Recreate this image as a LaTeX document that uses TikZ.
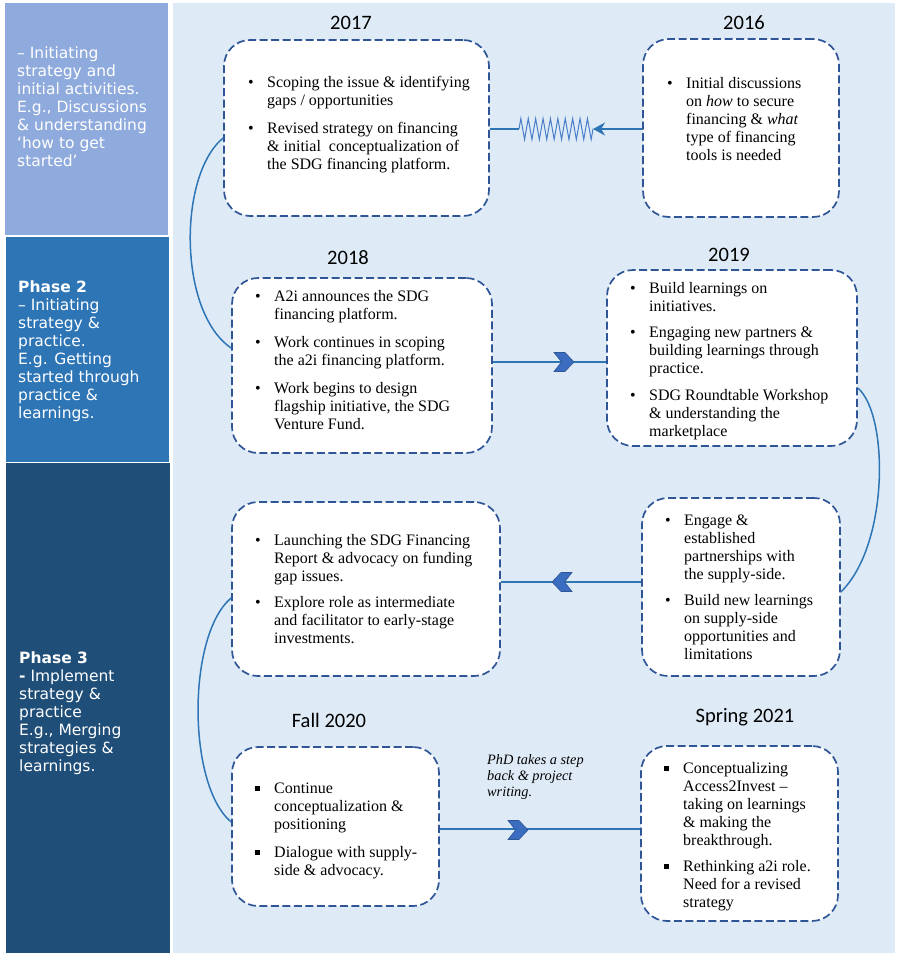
\documentclass[tikz,border=0pt]{standalone}
\usepackage{fontspec}
\setmainfont{Liberation Serif}
\newfontfamily\headfont{Carlito}
\newfontfamily\sidefont{DejaVu Sans}
\usetikzlibrary{arrows.meta,decorations.pathmorphing}

\definecolor{phaseA}{HTML}{8FAADC}
\definecolor{phaseB}{HTML}{2E75B6}
\definecolor{phaseC}{HTML}{1F4E79}
\definecolor{canvasbg}{HTML}{DEEBF7}
\definecolor{dashcol}{HTML}{2F5597}
\definecolor{linkcol}{HTML}{2E75B6}
\definecolor{chevcol}{HTML}{3A6CC0}
\definecolor{springcol}{HTML}{4A7EC8}

\newcommand{\bodysize}{\fontsize{16}{18}\selectfont}
\newcommand{\sidesize}{\sidefont\fontsize{15.5}{18}\selectfont}
\newcommand{\dotb}{\textbullet}
\newcommand{\sqb}{\rule[3pt]{4.6pt}{4.6pt}}
\newenvironment{blist}{\bodysize\renewcommand\arraystretch{1}\begin{tabular}{@{}p{19pt}@{}l@{}}}{\end{tabular}}
\newenvironment{slist}{\sidesize\renewcommand\arraystretch{1}\begin{tabular}{@{}l@{}}}{\end{tabular}}

\tikzset{
  chevR/.pic={\fill[chevcol, draw=dashcol, line width=0.6pt] (-10,-9.5) -- (1,-9.5) -- (10,0) -- (1,9.5) -- (-10,9.5) -- (-2.5,0) -- cycle;}
}

\begin{document}
\begin{tikzpicture}[x=1pt,y=-1pt,
  box/.style={draw=dashcol, line width=1.7pt, dash pattern=on 8pt off 3.5pt,
              fill=white, rounded corners=26pt, inner sep=0pt},
  txt/.style={anchor=north west, inner sep=0pt},
  yearlbl/.style={font=\headfont\fontsize{20.5}{22}\selectfont, inner sep=0pt},
  sidelbl/.style={anchor=north west, inner sep=0pt, text=white},
  link/.style={draw=linkcol, line width=2.8pt},
  curve/.style={draw=linkcol, line width=1.5pt},
  spring/.style={draw=springcol, line width=1pt, decorate,
                 decoration={zigzag, segment length=7.4pt, amplitude=10.5pt}},
  note/.style={anchor=north west, inner sep=0pt,
               font=\itshape\fontsize{14.3}{16}\selectfont}]
\useasboundingbox (0,0) rectangle (898,953);
\fill[white] (0,0) rectangle (898,953);

% phase column and timeline canvas
\fill[phaseA] (5,3) rectangle (168,235);
\fill[phaseB] (6,237) rectangle (169,462);
\fill[phaseC] (6,463) rectangle (170,953);
\fill[canvasbg] (173,3) rectangle (895,953);

\node[sidelbl] (side1) at (17,46) {\begin{slist}
– Initiating\\ strategy and\\ initial activities.\\ E.g., Discussions\\ \& understanding\\ ‘how to get\\ started’
\end{slist}};
\node[sidelbl] (side2) at (18,280) {\begin{slist}
\textbf{Phase 2}\\ – Initiating\\ strategy \&\\ practice.\\ E.g. Getting\\ started through\\ practice \&\\ learnings.
\end{slist}};
\node[sidelbl] (side3) at (19,651) {\begin{slist}
\textbf{Phase 3}\\ \textbf{-} Implement\\ strategy \&\\ practice\\ E.g., Merging\\ strategies \&\\ learnings.
\end{slist}};

% yearly boxes
\node[box, minimum width=265pt, minimum height=176pt] (b2017) at (356.5,128) {};
\node[box, minimum width=196pt, minimum height=178pt] (b2016) at (741,128) {};
\node[box, minimum width=260pt, minimum height=175pt] (b2018) at (362,365.5) {};
\node[box, minimum width=250pt, minimum height=176pt] (b2019) at (732,358) {};
\node[box, minimum width=268pt, minimum height=174pt] (bLaunch) at (366,589) {};
\node[box, minimum width=198pt, minimum height=178pt] (bEngage) at (741,587) {};
\node[box, minimum width=207pt, minimum height=159pt] (bFall) at (335.5,826.5) {};
\node[box, minimum width=197pt, minimum height=175pt] (bSpring) at (739.5,833.5) {};

% headings
\node[yearlbl] (y2017) at (351,23) {2017};
\node[yearlbl] (y2016) at (744,23) {2016};
\node[yearlbl] (y2018) at (348,258) {2018};
\node[yearlbl] (y2019) at (729,255) {2019};
\node[yearlbl] (yFall) at (329,720) {Fall 2020};
\node[yearlbl] (ySpring) at (745,717) {Spring 2021};

% box contents
\node[txt] (t2017) at (248,75) {\begin{blist}
\dotb & Scoping the issue \& identifying\\
      & gaps / opportunities\\[10pt]
\dotb & Revised strategy on financing\\
      & \& initial\ \ conceptualization of\\
      & the SDG financing platform.
\end{blist}};
\node[txt] (t2016) at (667,76) {\begin{blist}
\dotb & Initial discussions\\
      & on \textit{how} to secure\\
      & financing \& \textit{what}\\
      & type of financing\\
      & tools is needed
\end{blist}};
\node[txt] (t2018) at (255,289) {\begin{blist}
\dotb & A2i announces the SDG\\
      & financing platform.\\[10pt]
\dotb & Work continues in scoping\\
      & the a2i financing platform.\\[10pt]
\dotb & Work begins to design\\
      & flagship initiative, the SDG\\
      & Venture Fund.
\end{blist}};
\node[txt] (t2019) at (630,281) {\begin{blist}
\dotb & Build learnings on\\
      & initiatives.\\[8pt]
\dotb & Engaging new partners \&\\
      & building learnings through\\
      & practice.\\[9pt]
\dotb & SDG Roundtable Workshop\\
      & \& understanding the\\
      & marketplace
\end{blist}};
\node[txt] (tLaunch) at (255,533) {\begin{blist}
\dotb & Launching the SDG Financing\\
      & Report \& advocacy on funding\\
      & gap issues.\\[8pt]
\dotb & Explore role as intermediate\\
      & and facilitator to early-stage\\
      & investments.
\end{blist}};
\node[txt] (tEngage) at (665,513) {\begin{blist}
\dotb & Engage \&\\
      & established\\
      & partnerships with\\
      & the supply-side.\\[8pt]
\dotb & Build new learnings\\
      & on supply-side\\
      & opportunities and\\
      & limitations
\end{blist}};
\node[txt] (tFall) at (255,781) {\begin{blist}
\sqb & Continue\\
     & conceptualization \&\\
     & positioning\\[10pt]
\sqb & Dialogue with supply-\\
     & side \& advocacy.
\end{blist}};
\node[txt] (tSpring) at (664,761) {\begin{blist}
\sqb & Conceptualizing\\
     & Access2Invest –\\
     & taking on learnings\\
     & \& making the\\
     & breakthrough.\\[8pt]
\sqb & Rethinking a2i role.\\
     & Need for a revised\\
     & strategy
\end{blist}};

\node[note] (phd) at (487,753) {\begin{tabular}{@{}l@{}}PhD takes a step\\ back \& project\\ writing.\end{tabular}};

% 2016 -> 2017 with spring
\coordinate (zzL) at (519,129);
\coordinate (zzR) at (593,129);
\draw[link] ([yshift=-1pt]b2017.east) -- (zzL);
\draw[spring] (zzL) -- (zzR);
\draw[link, -{Stealth[length=12pt,width=13pt]}] ([yshift=-1pt]b2016.west) -- (zzR);

% chevron links
\coordinate (m1) at (0,362);
\draw[link] (b2018.east |- m1) -- (b2019.west |- m1);
\pic at (564,362) {chevR};

\coordinate (m2) at (0,582);
\draw[link] (bEngage.west |- m2) -- (bLaunch.east |- m2);
\pic[rotate=180] at (562,582) {chevR};

\coordinate (m3) at (0,829);
\draw[link] (bFall.east |- m3) -- (bSpring.west |- m3);
\pic at (518,830) {chevR};

% side arcs between rows
\draw[curve] ([yshift=-10pt]b2017.west) .. controls (178,175) and (178,312) .. ([yshift=17.5pt]b2018.west);
\draw[curve] ([yshift=-30pt]b2019.east) .. controls (889,415) and (889,545) .. ([yshift=-5pt]bEngage.east);
\draw[curve] ([yshift=-9pt]bLaunch.west) .. controls (187,635) and (187,785) .. ([yshift=4.5pt]bFall.west);
\end{tikzpicture}
\end{document}
